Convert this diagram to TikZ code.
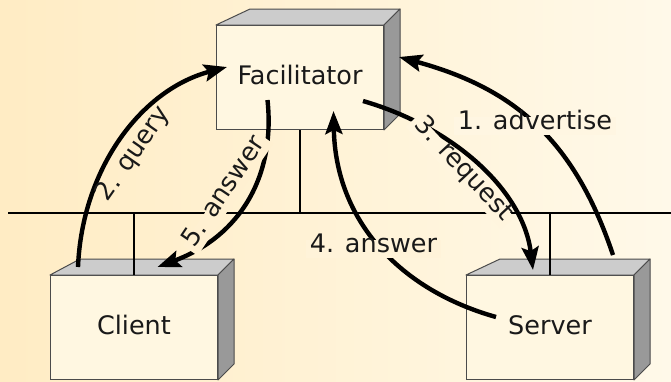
\documentclass[tikz,border=0pt]{standalone}
\usepackage{fontspec}
\setmainfont{DejaVu Sans}
\usetikzlibrary{arrows.meta,calc}

\definecolor{bgL}{RGB}{255,236,196}
\definecolor{bgR}{RGB}{255,249,233}
\definecolor{frontfill}{RGB}{255,247,225}
\definecolor{topface}{RGB}{204,204,204}
\definecolor{sideface}{RGB}{153,153,153}
\definecolor{edge}{RGB}{75,75,75}
\definecolor{ink}{RGB}{25,25,25}

\begin{document}
\begin{tikzpicture}[x=1pt,y=-1pt,
  font=\fontsize{25.5}{30}\selectfont,
  hostbox/.style={draw=edge, line width=1pt, fill=frontfill,
    minimum width=167pt, minimum height=104pt, inner sep=0pt,
    anchor=north west, text=ink, text height=19pt, text depth=5pt},
  topfc/.style={draw=edge, line width=1pt, fill=topface, line join=round},
  sidefc/.style={draw=edge, line width=1pt, fill=sideface, line join=round},
  wire/.style={line width=2.4pt, black},
  msg/.style={line width=4.4pt, black,
    -{Stealth[length=23pt,width=17pt,inset=4pt]}},
  lbl/.style={text=ink, inner sep=4pt, text height=0.76em, text depth=0.24em},
]
% page and background
\useasboundingbox (0,0) rectangle (671,381);
\fill[left color=bgL, right color=bgR] (0,0) rectangle (671,381);

% shared network segment
\coordinate (netW) at (8,213);
\coordinate (netE) at (671,213);
\draw[wire] (netW) -- (netE);

% hosts: front faces
\node[hostbox] (fac)    at (216,25)  {Facilitator};
\node[hostbox] (client) at (50,275)  {Client};
\node[hostbox] (server) at (466,275) {Server};

% hosts: top and side faces
\foreach \b/\dl in {fac/34, client/30, server/34} {
  \filldraw[topfc] (\b.north west) -- ++(\dl,-16)
    -- ($(\b.north east)+(16,-16)$) -- (\b.north east) -- cycle;
  \filldraw[sidefc] (\b.north east) -- ++(16,-16)
    -- ($(\b.south east)+(16,-16)$) -- (\b.south east) -- cycle;
}

% drops onto the network
\draw[wire] (fac.south) -- (fac.south |- netW);
\draw[wire] (client.north) -- (client.north |- netW);
\draw[wire] (server.north) -- (server.north |- netW);

% message flows
\draw[msg] ($(server.north east)+(-21,-20)$)
  .. controls +(-40,-120) and +(110,30) .. ($(fac.north east)+(15,32)$);
\draw[msg] ($(client.north west)+(28,-8)$)
  .. controls +(4,-97) and +(-87,23) .. ($(fac.north west)+(11,42)$);
\draw[msg] ($(server.north west)+(30,42)$)
  .. controls +(-96,-27) and +(2,110) .. ($(fac.south)+(33.5,-19)$);
\draw[msg] ($(fac.south)+(-32.5,-30)$)
  .. controls +(8,76) and +(83,-31) .. ($(client.north)+(23.5,-8)$);

% labels (filled so they cut the lines passing behind them)
\node[lbl, fill=bgR!80!bgL, anchor=base] (advlbl) at (535,129) {1. advertise};
\node[lbl, fill=bgR!56!bgL, anchor=base] (ans4lbl) at (373.5,252) {4. answer};
\node[lbl, fill=bgR!34!bgL, rotate=56] (ans5lbl) at (228,194.5) {5. answer};
\node[lbl, rotate=55] (qlbl) at (137,156.5) {2. query};

% request flow and its label
\draw[msg] ($(fac.south east)+(-21,-29)$)
  .. controls +(90,26) and +(-10,-80) .. ($(server.north west)+(67,-5)$);
\node[lbl, fill=bgR!69!bgL, rotate=-47] (reqlbl) at (460,172) {3. request};
\end{tikzpicture}
\end{document}
